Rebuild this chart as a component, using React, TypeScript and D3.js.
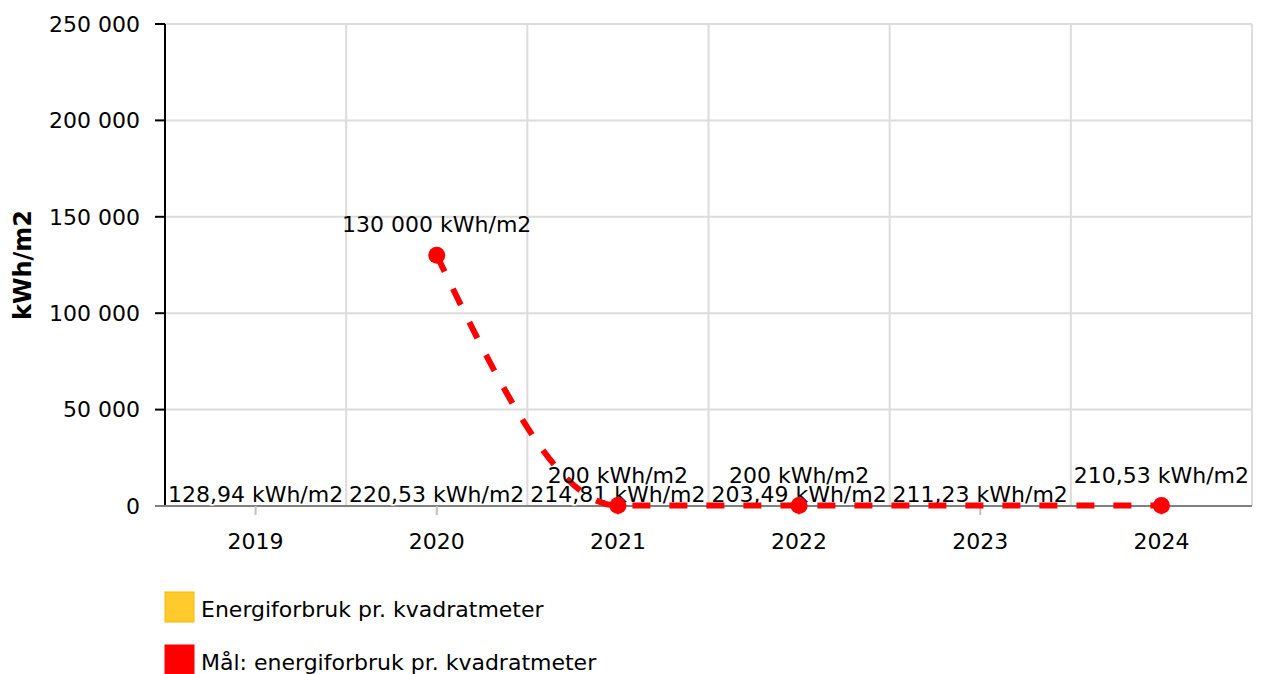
import * as d3 from 'd3';

const W = 1263;
const H = 674;
const FONT = '"DejaVu Sans", Verdana, sans-serif';
const YELLOW = '#ffca2c';
const YELLOW_EDGE = '#f5b800';
const RED = '#ff0000';

// data
const years = ['2019', '2020', '2021', '2022', '2023', '2024'];
const usage = [128.94, 220.53, 214.81, 203.49, 211.23, null];
const target = [null, 130000, 200, 200, null, 210.53];
const yTicks = [0, 50000, 100000, 150000, 200000, 250000];
const seriesNames = ['Energiforbruk pr. kvadratmeter', 'Mål: energiforbruk pr. kvadratmeter'];

const M = { left: 165, right: 1252, top: 24, bottom: 506 };

const fmtNum = (v: number) => {
  const s = v % 1 === 0 ? String(v) : v.toFixed(2).replace('.', ',');
  const [i, dec] = s.split(',');
  const grouped = i.replace(/\B(?=(\d{3})+(?!\d))/g, ' ');
  return dec ? `${grouped},${dec}` : grouped;
};

export default function App() {
  const x = d3.scaleBand<string>().domain(years).range([M.left, M.right]).padding(0);
  const y = d3.scaleLinear().domain([0, 250000]).range([M.bottom, M.top]);
  const bw = x.bandwidth();
  const cx = (yr: string) => (x(yr) ?? 0) + bw / 2;

  const tPts = years
    .map((yr, i) => ({ yr, v: target[i] }))
    .filter(d => d.v !== null) as { yr: string; v: number }[];

  const line = d3.line<{ yr: string; v: number }>()
    .x(d => cx(d.yr))
    .y(d => y(d.v))
    .curve(d3.curveMonotoneX);

  const fs = 22;

  return (
    <svg width={W} height={H} style={{ position: 'absolute', left: 0, top: 0 }} fontFamily={FONT}>
      {/* grid */}
      {yTicks.map(t => (
        <line key={'h' + t} x1={M.left} x2={M.right} y1={y(t)} y2={y(t)} stroke="#dcdcdc" strokeWidth={2} />
      ))}
      {years.map(yr => (
        <line key={'v' + yr} x1={(x(yr) ?? 0) + bw} x2={(x(yr) ?? 0) + bw} y1={M.top} y2={M.bottom} stroke="#dcdcdc" strokeWidth={2} />
      ))}

      {/* bars */}
      {years.map((yr, i) => usage[i] === null ? null : (
        <rect key={'b' + yr} x={cx(yr) - bw * 0.3} width={bw * 0.6} y={y(usage[i] as number)}
          height={M.bottom - y(usage[i] as number)} fill={YELLOW} />
      ))}

      {/* axes */}
      <line x1={M.left} x2={M.left} y1={M.top} y2={M.bottom} stroke="#000" strokeWidth={2} />
      {yTicks.map(t => (
        <g key={'yt' + t}>
          <line x1={M.left - 10} x2={M.left} y1={y(t)} y2={y(t)} stroke="#000" strokeWidth={2} />
          <text x={M.left - 25} y={y(t)} dy="0.35em" textAnchor="end" fontSize={fs} fill="#000">{fmtNum(t)}</text>
        </g>
      ))}
      <line x1={M.left - 10} x2={M.right} y1={M.bottom} y2={M.bottom} stroke="#808080" strokeWidth={2} />
      {years.map(yr => (
        <g key={'xt' + yr}>
          <line x1={cx(yr)} x2={cx(yr)} y1={M.bottom} y2={M.bottom + 9} stroke="#c0c0c0" strokeWidth={2} />
          <text x={cx(yr)} y={549} textAnchor="middle" fontSize={fs} fill="#000">{yr}</text>
        </g>
      ))}
      <text transform={`translate(31,${(M.top + M.bottom) / 2}) rotate(-90)`} textAnchor="middle"
        fontSize={24} fontWeight="bold" fill="#000">kWh/m2</text>

      {/* bar labels */}
      {years.map((yr, i) => usage[i] === null ? null : (
        <text key={'bl' + yr} x={cx(yr)} y={y(usage[i] as number) - 4} textAnchor="middle" fontSize={fs} fill="#000"
          stroke="#fff" strokeWidth={3} paintOrder="stroke">{fmtNum(usage[i] as number)} kWh/m2</text>
      ))}

      {/* target line */}
      <path d={line(tPts) ?? ''} fill="none" stroke={RED} strokeWidth={6} strokeDasharray="18 19" />
      {tPts.map(d => (
        <circle key={'c' + d.yr} cx={cx(d.yr)} cy={y(d.v)} r={8.5} fill={RED} />
      ))}
      {tPts.map(d => (
        <text key={'tl' + d.yr} x={cx(d.yr)} y={y(d.v) - 23} textAnchor="middle" fontSize={fs} fill="#000">
          {fmtNum(d.v)} kWh/m2
        </text>
      ))}

      {/* legend */}
      {seriesNames.map((n, i) => (
        <g key={n} transform={`translate(165,${592 + i * 53})`}>
          <rect x={0} y={0} width={29} height={30} fill={i === 0 ? YELLOW : RED}
            stroke={i === 0 ? YELLOW_EDGE : RED} strokeWidth={1} />
          <text x={36} y={24.5} fontSize={fs} fill="#000">{n}</text>
        </g>
      ))}
    </svg>
  );
}
